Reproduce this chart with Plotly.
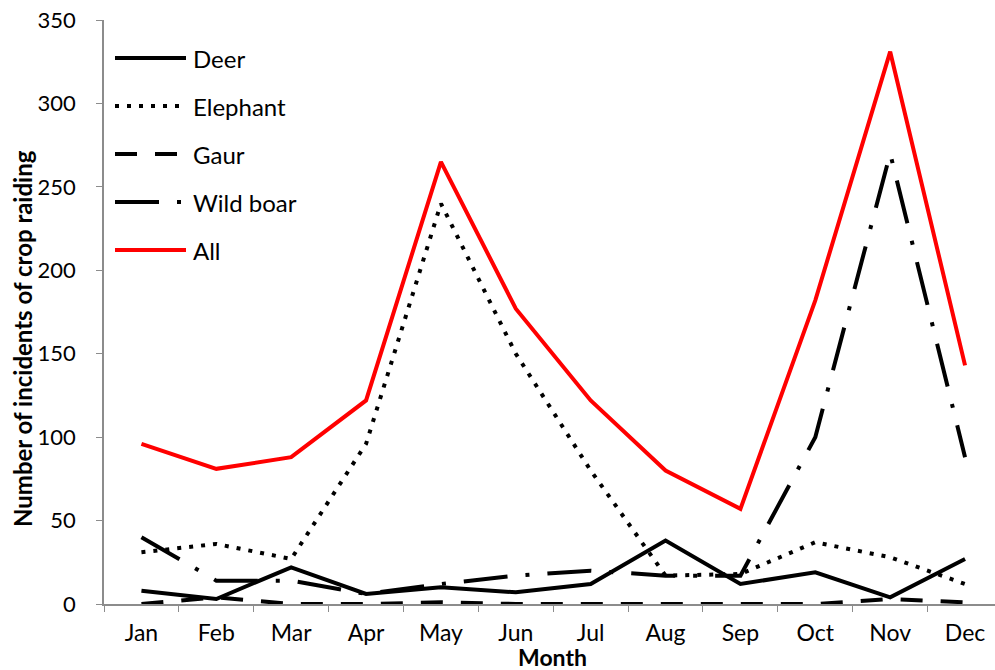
import plotly.graph_objects as go

months = ["Jan", "Feb", "Mar", "Apr", "May", "Jun", "Jul", "Aug", "Sep", "Oct", "Nov", "Dec"]
deer = [8, 3, 22, 6, 10, 7, 12, 38, 12, 19, 4, 27]
elephant = [31, 36, 27, 96, 240, 150, 80, 17, 18, 37, 28, 12]
gaur = [0, 4, 0, 0, 1, 0, 0, 0, 0, 0, 3, 1]
wild_boar = [40, 14, 14, 6, 12, 17, 20, 17, 17, 100, 270, 88]
all_species = [96, 81, 88, 122, 265, 177, 122, 80, 57, 182, 331, 143]

series_names = ["Deer", "Elephant", "Gaur", "Wild boar", "All"]
series_vals = [deer, elephant, gaur, wild_boar, all_species]
series_colors = ["black", "black", "black", "black", "#FF0000"]
series_dash = ["solid", "4px,8px", "22px,18px", "44px,18px,4px,18px", "solid"]

FONT = "Lato, 'Open Sans', sans-serif"

fig = go.Figure()
for name, vals, col, dash in zip(series_names, series_vals, series_colors, series_dash):
    fig.add_trace(go.Scatter(x=months, y=vals, mode="lines", name=name,
                             line=dict(color=col, width=4, dash=dash),
                             showlegend=False))

# plot area geometry (pixels)
L, R, T, B = 104, 995, 20, 604
W, H = R - L, B - T

def px(x):
    return (x - L) / W

def py(y):
    return (B - y) / H

shapes = []
annotations = []
leg_rows = [58, 106, 154, 202, 250]
for name, col, dash, yy in zip(series_names, series_colors, series_dash, leg_rows):
    shapes.append(dict(type="line", xref="paper", yref="paper",
                       x0=px(115), x1=px(186), y0=py(yy), y1=py(yy),
                       line=dict(color=col, width=4, dash=dash)))
    annotations.append(dict(text=name, xref="paper", yref="paper",
                            x=px(191), y=py(yy), xanchor="left", yanchor="middle",
                            showarrow=False, font=dict(size=24, color="black", family=FONT)))

annotations.append(dict(text="<b>Number of incidents of crop raiding</b>", xref="paper", yref="paper",
                        x=px(22), y=py(339), textangle=-90, xanchor="center", yanchor="middle",
                        showarrow=False, font=dict(size=24, color="black", family=FONT)))
annotations.append(dict(text="<b>Month</b>", xref="paper", yref="paper",
                        x=px(552), y=py(657), xanchor="center", yanchor="middle",
                        showarrow=False, font=dict(size=23, color="black", family=FONT)))

fig.update_layout(
    width=995, height=670,
    margin=dict(l=L, r=995 - R, t=T, b=670 - B),
    paper_bgcolor="white", plot_bgcolor="white",
    shapes=shapes, annotations=annotations,
    font=dict(family=FONT, color="black", size=22),
    xaxis=dict(type="category", range=[-0.5, 11.4], showgrid=False, zeroline=False,
               showline=True, linecolor="#8c8c8c", linewidth=1.5,
               ticks="outside", tickson="boundaries", ticklen=6, tickcolor="#8c8c8c",
               tickfont=dict(size=23, family=FONT), ticklabelstandoff=8),
    yaxis=dict(range=[0, 350], dtick=50, showgrid=False, zeroline=False,
               showline=True, linecolor="#8c8c8c", linewidth=1.5,
               ticks="outside", ticklen=6, tickcolor="#8c8c8c",
               tickfont=dict(size=22, family=FONT), ticklabelstandoff=16),
)

fig.write_html("out.html", config={"displayModeBar": False},
               post_script="document.body.style.margin='0';document.body.style.overflow='hidden';")
